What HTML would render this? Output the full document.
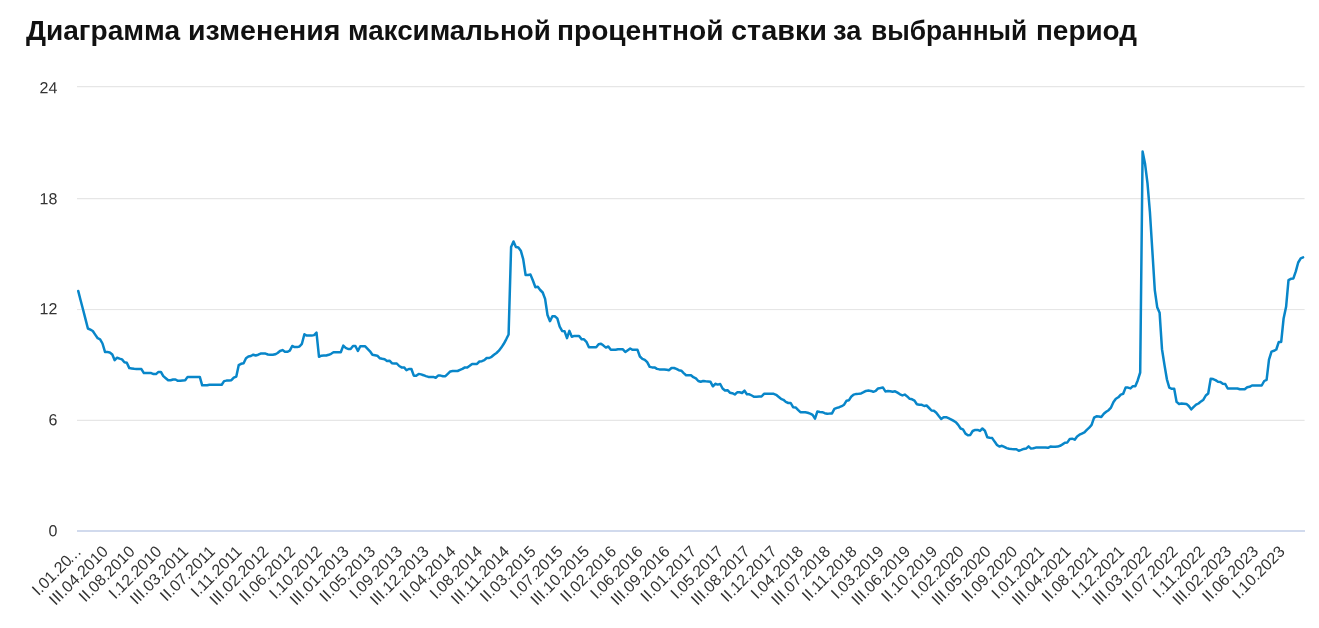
<!DOCTYPE html>
<html lang="ru"><head><meta charset="utf-8"><title>Диаграмма</title>
<style>
html,body{margin:0;padding:0;background:#fff;}
body{width:1319px;height:628px;overflow:hidden;position:relative;font-family:"Liberation Sans",sans-serif;}
h2 span{position:absolute;top:0;transform-origin:0 0;}
h2{position:absolute;left:0;top:0;margin:0;font-size:27px;line-height:27px;font-weight:bold;color:#111;letter-spacing:0px;white-space:nowrap;transform:translateY(17.844500000000004px);}
svg{position:absolute;left:0;top:0;}
svg text{font-family:"Liberation Sans",sans-serif;fill:#333;}
.yl text{font-size:16px;}
.xl text{font-size:16px;}
</style></head><body>
<h2><span style="left:26.29px;transform:scaleX(1.0397)">Диаграмма</span> <span style="left:188.35px;transform:scaleX(1.0561)">изменения</span> <span style="left:347.59px;transform:scaleX(1.0280)">максимальной</span> <span style="left:557.49px;transform:scaleX(1.0414)">процентной</span> <span style="left:730.73px;transform:scaleX(1.0673)">ставки</span> <span style="left:832.96px;transform:scaleX(1.0102)">за</span> <span style="left:871.03px;transform:scaleX(0.9758)">выбранный</span> <span style="left:1035.55px;transform:scaleX(1.0337)">период</span></h2>
<svg width="1319" height="628" viewBox="0 0 1319 628">
<g>
<rect x="77" y="86.00" width="1227.6" height="1.25" fill="#e6e6e6"/>
<rect x="77" y="198.00" width="1227.6" height="1.25" fill="#e6e6e6"/>
<rect x="77" y="309.00" width="1227.6" height="1.10" fill="#e6e6e6"/>
<rect x="77" y="419.75" width="1227.6" height="1.25" fill="#e6e6e6"/>
<rect x="77" y="530.1" width="1228" height="1.8" fill="#ccd6eb"/>
</g>
<g class="yl">
<text transform="translate(57.3 93.20) rotate(0.03)" text-anchor="end">24</text>
<text transform="translate(57.3 204.25) rotate(0.03)" text-anchor="end">18</text>
<text transform="translate(57.3 314.30) rotate(0.03)" text-anchor="end">12</text>
<text transform="translate(57.3 425.25) rotate(0.03)" text-anchor="end">6</text>
<text transform="translate(57.3 536.20) rotate(0.03)" text-anchor="end">0</text>
</g>
<g class="xl">
<text transform="translate(82.2 552.5) rotate(-45)" text-anchor="end">I.01.20<tspan dx="-3">…</tspan></text>
<text transform="translate(109.0 552.5) rotate(-45)" text-anchor="end">III.04.2010</text>
<text transform="translate(135.7 552.5) rotate(-45)" text-anchor="end">II.08.2010</text>
<text transform="translate(162.5 552.5) rotate(-45)" text-anchor="end">I.12.2010</text>
<text transform="translate(189.2 552.5) rotate(-45)" text-anchor="end">III.03.2011</text>
<text transform="translate(216.0 552.5) rotate(-45)" text-anchor="end">II.07.2011</text>
<text transform="translate(242.7 552.5) rotate(-45)" text-anchor="end">I.11.2011</text>
<text transform="translate(269.5 552.5) rotate(-45)" text-anchor="end">III.02.2012</text>
<text transform="translate(296.2 552.5) rotate(-45)" text-anchor="end">II.06.2012</text>
<text transform="translate(323.0 552.5) rotate(-45)" text-anchor="end">I.10.2012</text>
<text transform="translate(349.7 552.5) rotate(-45)" text-anchor="end">III.01.2013</text>
<text transform="translate(376.4 552.5) rotate(-45)" text-anchor="end">II.05.2013</text>
<text transform="translate(403.2 552.5) rotate(-45)" text-anchor="end">I.09.2013</text>
<text transform="translate(429.9 552.5) rotate(-45)" text-anchor="end">III.12.2013</text>
<text transform="translate(456.7 552.5) rotate(-45)" text-anchor="end">II.04.2014</text>
<text transform="translate(483.4 552.5) rotate(-45)" text-anchor="end">I.08.2014</text>
<text transform="translate(510.2 552.5) rotate(-45)" text-anchor="end">III.11.2014</text>
<text transform="translate(536.9 552.5) rotate(-45)" text-anchor="end">II.03.2015</text>
<text transform="translate(563.7 552.5) rotate(-45)" text-anchor="end">I.07.2015</text>
<text transform="translate(590.4 552.5) rotate(-45)" text-anchor="end">III.10.2015</text>
<text transform="translate(617.2 552.5) rotate(-45)" text-anchor="end">II.02.2016</text>
<text transform="translate(643.9 552.5) rotate(-45)" text-anchor="end">I.06.2016</text>
<text transform="translate(670.7 552.5) rotate(-45)" text-anchor="end">III.09.2016</text>
<text transform="translate(697.4 552.5) rotate(-45)" text-anchor="end">II.01.2017</text>
<text transform="translate(724.2 552.5) rotate(-45)" text-anchor="end">I.05.2017</text>
<text transform="translate(750.9 552.5) rotate(-45)" text-anchor="end">III.08.2017</text>
<text transform="translate(777.7 552.5) rotate(-45)" text-anchor="end">II.12.2017</text>
<text transform="translate(804.4 552.5) rotate(-45)" text-anchor="end">I.04.2018</text>
<text transform="translate(831.2 552.5) rotate(-45)" text-anchor="end">III.07.2018</text>
<text transform="translate(857.9 552.5) rotate(-45)" text-anchor="end">II.11.2018</text>
<text transform="translate(884.7 552.5) rotate(-45)" text-anchor="end">I.03.2019</text>
<text transform="translate(911.4 552.5) rotate(-45)" text-anchor="end">III.06.2019</text>
<text transform="translate(938.2 552.5) rotate(-45)" text-anchor="end">II.10.2019</text>
<text transform="translate(964.9 552.5) rotate(-45)" text-anchor="end">I.02.2020</text>
<text transform="translate(991.7 552.5) rotate(-45)" text-anchor="end">III.05.2020</text>
<text transform="translate(1018.4 552.5) rotate(-45)" text-anchor="end">II.09.2020</text>
<text transform="translate(1045.2 552.5) rotate(-45)" text-anchor="end">I.01.2021</text>
<text transform="translate(1071.9 552.5) rotate(-45)" text-anchor="end">III.04.2021</text>
<text transform="translate(1098.7 552.5) rotate(-45)" text-anchor="end">II.08.2021</text>
<text transform="translate(1125.4 552.5) rotate(-45)" text-anchor="end">I.12.2021</text>
<text transform="translate(1152.2 552.5) rotate(-45)" text-anchor="end">III.03.2022</text>
<text transform="translate(1178.9 552.5) rotate(-45)" text-anchor="end">II.07.2022</text>
<text transform="translate(1205.7 552.5) rotate(-45)" text-anchor="end">I.11.2022</text>
<text transform="translate(1232.4 552.5) rotate(-45)" text-anchor="end">III.02.2023</text>
<text transform="translate(1259.2 552.5) rotate(-45)" text-anchor="end">II.06.2023</text>
<text transform="translate(1285.9 552.5) rotate(-45)" text-anchor="end">I.10.2023</text>
</g>
<path d="M78.2 290.9 L80.6 300.3 L83.1 309.7 L85.5 319.1 L87.9 328.5 L90.4 329.7 L92.8 331.0 L95.2 334.6 L97.7 338.2 L100.1 339.3 L102.5 343.5 L105.0 351.9 L107.4 352.1 L109.8 352.4 L112.3 354.4 L114.7 360.2 L117.1 357.7 L119.6 358.6 L122.0 359.4 L124.4 362.2 L126.8 362.7 L129.3 368.1 L131.7 368.4 L134.1 368.8 L136.6 369.1 L139.0 369.1 L141.4 369.1 L143.9 373.1 L146.3 373.1 L148.7 373.1 L151.2 373.1 L153.6 374.1 L156.0 374.1 L158.5 371.9 L160.9 371.9 L163.3 376.1 L165.8 378.2 L168.2 380.3 L170.6 380.3 L173.1 379.5 L175.5 379.5 L177.9 380.8 L180.3 380.8 L182.8 380.5 L185.2 380.3 L187.6 376.9 L190.1 376.9 L192.5 376.9 L194.9 376.9 L197.4 376.9 L199.8 376.9 L202.2 385.3 L204.7 385.3 L207.1 385.3 L209.5 384.8 L212.0 384.8 L214.4 384.8 L216.8 384.8 L219.3 384.8 L221.7 384.8 L224.1 381.1 L226.5 380.6 L229.0 380.4 L231.4 380.2 L233.8 377.7 L236.3 376.6 L238.7 365.2 L241.1 363.8 L243.6 363.2 L246.0 358.2 L248.4 356.5 L250.9 356.0 L253.3 354.7 L255.7 355.5 L258.2 354.7 L260.6 353.6 L263.0 353.6 L265.5 353.6 L267.9 354.5 L270.3 354.8 L272.8 354.8 L275.2 354.3 L277.6 353.0 L280.0 351.0 L282.5 350.1 L284.9 351.8 L287.3 351.8 L289.8 350.6 L292.2 346.0 L294.6 347.1 L297.1 347.1 L299.5 346.5 L301.9 343.8 L304.4 334.3 L306.8 335.6 L309.2 335.6 L311.7 335.6 L314.1 335.1 L316.5 332.6 L319.0 356.8 L321.4 355.7 L323.8 355.6 L326.2 355.5 L328.7 354.8 L331.1 353.8 L333.5 352.3 L336.0 352.3 L338.4 352.3 L340.8 352.3 L343.3 345.6 L345.7 347.8 L348.1 349.0 L350.6 349.0 L353.0 346.0 L355.4 346.0 L357.9 351.0 L360.3 346.3 L362.7 346.3 L365.2 346.3 L367.6 348.8 L370.0 351.3 L372.4 354.7 L374.9 355.2 L377.3 355.7 L379.7 358.2 L382.2 358.8 L384.6 359.3 L387.0 361.0 L389.5 360.7 L391.9 363.2 L394.3 363.4 L396.8 363.5 L399.2 366.0 L401.6 367.4 L404.1 367.4 L406.5 370.2 L408.9 369.0 L411.4 369.0 L413.8 375.7 L416.2 375.7 L418.7 373.9 L421.1 374.4 L423.5 375.2 L425.9 376.1 L428.4 376.9 L430.8 376.9 L433.2 376.9 L435.7 377.7 L438.1 375.6 L440.5 375.6 L443.0 376.2 L445.4 376.2 L447.8 373.9 L450.3 371.4 L452.7 371.0 L455.1 371.0 L457.6 371.0 L460.0 369.9 L462.4 368.9 L464.9 367.4 L467.3 367.4 L469.7 365.7 L472.1 363.9 L474.6 363.9 L477.0 363.9 L479.4 361.5 L481.9 361.2 L484.3 360.2 L486.7 358.0 L489.2 358.0 L491.6 356.8 L494.0 354.8 L496.5 353.0 L498.9 350.7 L501.3 347.6 L503.8 343.8 L506.2 339.3 L508.6 334.5 L511.1 247.0 L513.5 241.5 L515.9 247.0 L518.4 247.5 L520.8 250.7 L523.2 259.1 L525.6 275.0 L528.1 275.0 L530.5 274.6 L532.9 280.5 L535.4 287.2 L537.8 286.8 L540.2 290.0 L542.7 292.5 L545.1 298.9 L547.5 315.0 L550.0 321.2 L552.4 316.2 L554.8 316.2 L557.3 318.4 L559.7 326.7 L562.1 330.9 L564.6 331.3 L567.0 338.1 L569.4 330.9 L571.8 336.8 L574.3 335.9 L576.7 335.9 L579.1 335.9 L581.6 339.3 L584.0 339.3 L586.4 341.8 L588.9 347.3 L591.3 347.3 L593.7 347.3 L596.2 347.3 L598.6 344.3 L601.0 343.8 L603.5 345.6 L605.9 347.6 L608.3 346.5 L610.8 349.8 L613.2 349.8 L615.6 349.8 L618.0 349.3 L620.5 349.3 L622.9 349.3 L625.3 352.0 L627.8 350.2 L630.2 348.5 L632.6 349.8 L635.1 349.8 L637.5 349.8 L639.9 356.5 L642.4 358.8 L644.8 359.8 L647.2 362.2 L649.7 366.9 L652.1 367.4 L654.5 367.4 L657.0 368.9 L659.4 369.4 L661.8 369.4 L664.3 369.4 L666.7 369.8 L669.1 370.2 L671.5 368.0 L674.0 368.0 L676.4 368.9 L678.8 370.2 L681.3 370.7 L683.7 373.1 L686.1 375.2 L688.6 375.2 L691.0 375.2 L693.4 377.2 L695.9 378.4 L698.3 381.0 L700.7 381.8 L703.2 381.0 L705.6 381.3 L708.0 381.5 L710.5 381.8 L712.9 386.3 L715.3 383.8 L717.7 384.6 L720.2 384.0 L722.6 388.5 L725.0 390.5 L727.5 390.2 L729.9 392.7 L732.3 393.2 L734.8 394.5 L737.2 392.3 L739.6 392.3 L742.1 393.0 L744.5 390.7 L746.9 394.3 L749.4 394.3 L751.8 395.5 L754.2 396.8 L756.7 396.7 L759.1 396.6 L761.5 396.5 L764.0 393.8 L766.4 393.8 L768.8 393.8 L771.2 393.8 L773.7 393.8 L776.1 394.8 L778.5 396.8 L781.0 398.8 L783.4 399.8 L785.8 401.9 L788.3 403.0 L790.7 403.0 L793.1 407.2 L795.6 407.4 L798.0 409.9 L800.4 412.2 L802.9 412.2 L805.3 412.2 L807.7 412.7 L810.2 413.6 L812.6 414.9 L815.0 418.6 L817.4 411.4 L819.9 411.9 L822.3 412.2 L824.7 413.2 L827.2 413.7 L829.6 413.6 L832.0 413.4 L834.4 408.9 L836.9 407.9 L839.3 407.2 L841.7 406.2 L844.1 404.7 L846.6 400.7 L849.0 400.2 L851.4 396.4 L853.8 394.6 L856.3 393.9 L858.7 393.7 L861.1 393.4 L863.6 392.2 L866.0 390.9 L868.4 390.6 L870.8 390.9 L873.3 391.8 L875.7 390.9 L878.1 388.4 L880.5 388.1 L883.0 387.6 L885.4 391.4 L887.8 391.1 L890.2 391.3 L892.7 391.8 L895.1 391.3 L897.5 392.6 L900.0 394.3 L902.4 395.4 L904.8 394.6 L907.2 396.4 L909.7 398.8 L912.1 399.3 L914.5 400.6 L916.9 404.3 L919.4 404.8 L921.8 404.8 L924.2 406.0 L926.6 405.5 L929.1 408.0 L931.5 410.5 L933.9 410.7 L936.3 412.7 L938.8 416.0 L941.2 419.0 L943.6 417.3 L946.1 417.2 L948.5 418.2 L950.9 419.3 L953.3 420.7 L955.8 422.2 L958.2 424.9 L960.6 428.5 L963.0 429.4 L965.5 433.6 L967.9 435.2 L970.3 434.9 L972.7 431.0 L975.2 429.9 L977.6 429.9 L980.0 430.9 L982.4 428.5 L984.9 430.7 L987.3 437.2 L989.7 437.7 L992.2 438.1 L994.6 441.6 L997.0 444.9 L999.4 446.6 L1001.9 445.8 L1004.3 446.9 L1006.7 448.1 L1009.1 448.8 L1011.6 449.1 L1014.0 449.2 L1016.4 449.3 L1018.8 450.8 L1021.3 449.9 L1023.7 448.9 L1026.1 448.6 L1028.6 446.4 L1031.0 448.6 L1033.4 448.3 L1035.8 447.6 L1038.3 447.4 L1040.7 447.4 L1043.1 447.4 L1045.5 447.4 L1048.0 447.8 L1050.4 446.6 L1052.8 446.8 L1055.2 446.7 L1057.7 446.6 L1060.1 445.8 L1062.5 444.4 L1064.9 442.8 L1067.4 442.4 L1069.8 438.9 L1072.2 438.7 L1074.7 439.7 L1077.1 436.4 L1079.5 434.7 L1081.9 433.6 L1084.4 432.4 L1086.8 429.9 L1089.2 427.7 L1091.6 424.9 L1094.1 417.7 L1096.5 416.3 L1098.9 416.5 L1101.3 417.0 L1103.8 413.8 L1106.2 411.8 L1108.6 410.2 L1111.0 407.6 L1113.5 402.1 L1115.9 398.8 L1118.3 397.3 L1120.8 394.6 L1123.2 393.8 L1125.6 387.6 L1128.0 387.6 L1130.5 388.4 L1132.9 386.2 L1135.3 386.2 L1137.7 380.4 L1140.2 372.5 L1142.6 151.4 L1145.0 163.4 L1147.5 183.4 L1149.9 211.9 L1152.3 250.0 L1154.8 290.1 L1157.2 307.2 L1159.6 312.7 L1162.0 349.2 L1164.5 365.1 L1166.9 379.3 L1169.3 387.7 L1171.8 388.8 L1174.2 388.8 L1176.6 401.9 L1179.1 404.0 L1181.5 403.5 L1183.9 403.7 L1186.4 403.9 L1188.8 406.0 L1191.2 409.4 L1193.7 406.9 L1196.1 404.7 L1198.5 403.5 L1201.0 401.4 L1203.4 399.7 L1205.8 395.5 L1208.2 393.5 L1210.7 378.8 L1213.1 379.1 L1215.5 380.1 L1218.0 381.8 L1220.4 382.0 L1222.8 383.8 L1225.3 384.1 L1227.7 388.5 L1230.1 388.5 L1232.6 388.5 L1235.0 388.5 L1237.4 388.5 L1239.9 389.2 L1242.3 389.2 L1244.7 389.3 L1247.2 387.3 L1249.6 386.8 L1252.0 385.5 L1254.5 385.5 L1256.9 385.5 L1259.3 385.5 L1261.7 385.5 L1264.2 381.0 L1266.6 379.8 L1269.0 359.7 L1271.5 351.6 L1273.9 350.8 L1276.3 349.5 L1278.8 341.9 L1281.2 341.9 L1283.6 318.5 L1286.1 306.8 L1288.5 280.1 L1290.9 278.8 L1293.4 278.4 L1295.8 271.4 L1298.2 262.5 L1300.7 258.4 L1303.1 257.4" fill="none" stroke="#0886c9" stroke-width="2.5" stroke-linejoin="round" stroke-linecap="round"/>
</svg>
</body></html>
